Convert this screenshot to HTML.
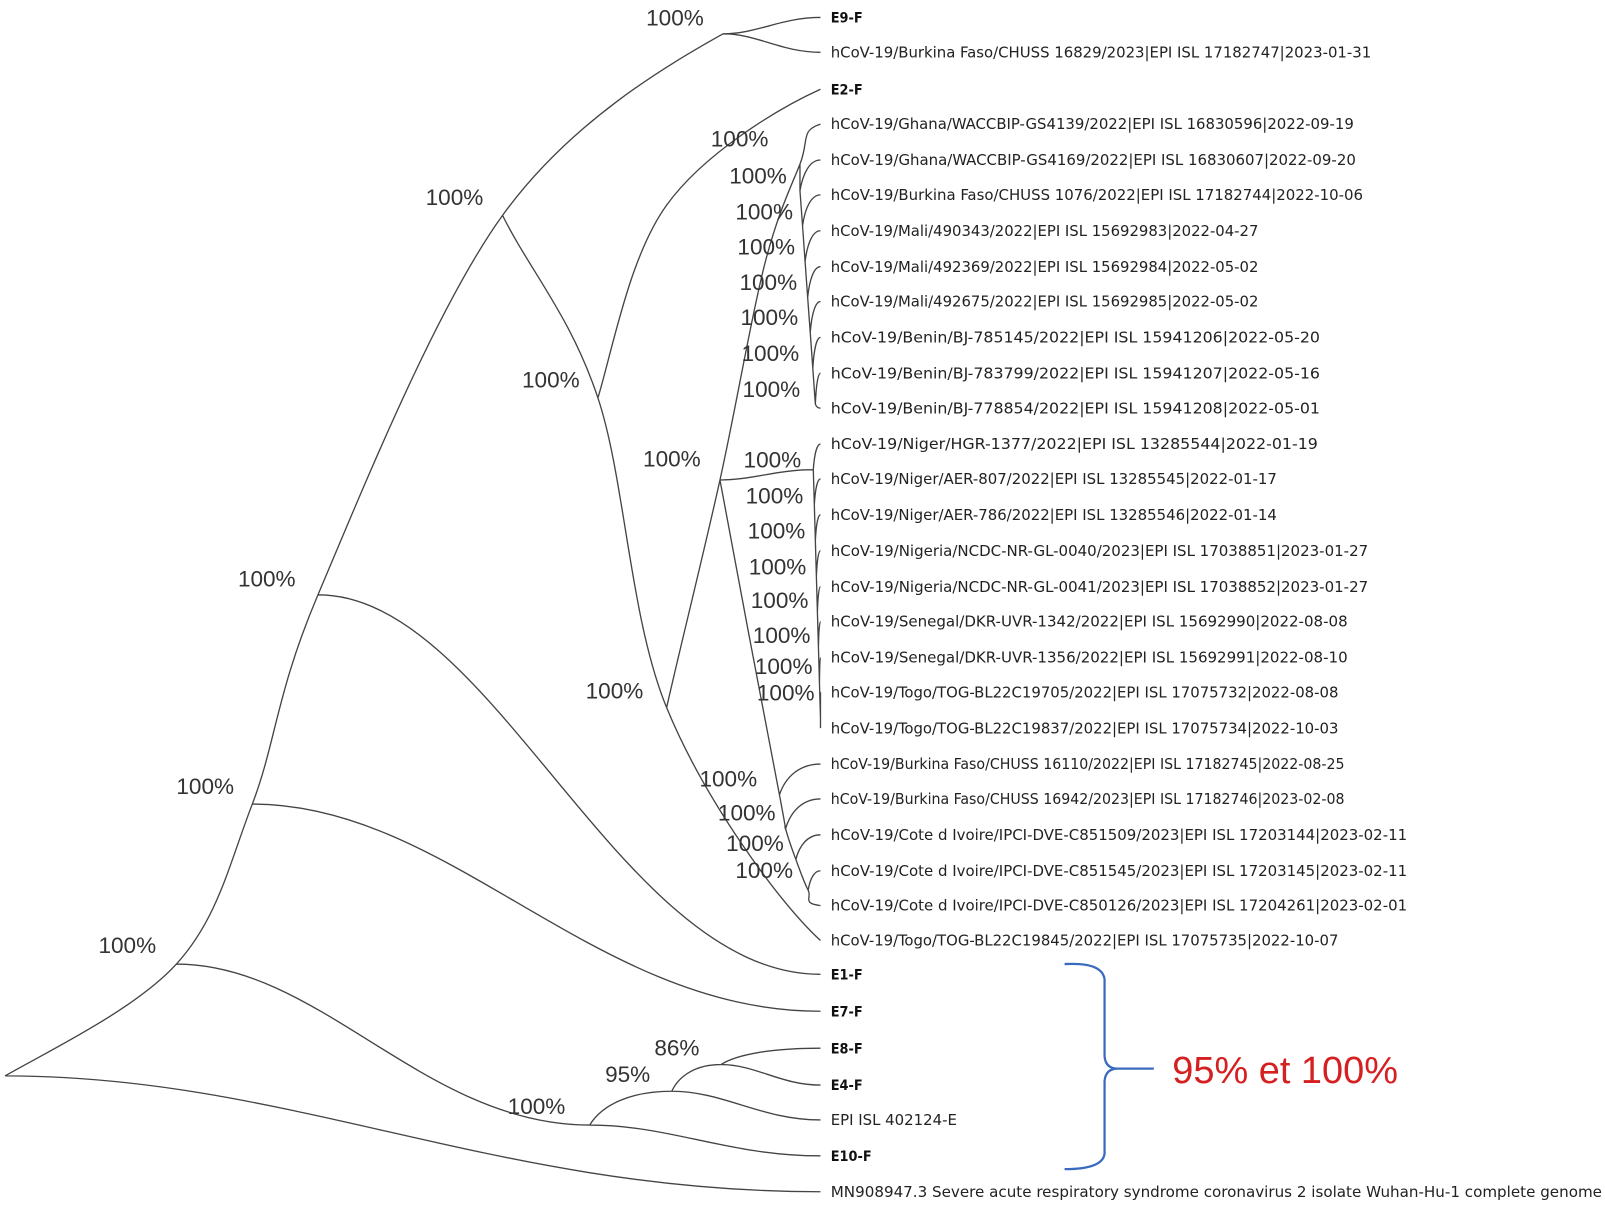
<!DOCTYPE html>
<html><head><meta charset="utf-8"><style>
html,body{margin:0;padding:0;background:#fff;}
svg{display:block;}
.b{font-family:"Liberation Sans",sans-serif;font-size:22px;fill:#333;}
.l{font-family:"DejaVu Sans Condensed","Liberation Sans Narrow","Liberation Sans",sans-serif;font-size:14.5px;fill:#222;}
.e{font-family:"DejaVu Sans Condensed","Liberation Sans",sans-serif;font-size:14px;font-weight:bold;fill:#111;}
</style></head><body>
<svg id="s" width="1605" height="1206" viewBox="0 0 1605 1206" xmlns="http://www.w3.org/2000/svg">
<g transform="scale(1.0256)">
<g id="edges" fill="none" stroke="#444" stroke-width="1.3"></g>
<text class="e" x="810" y="22">E9-F</text>
<text class="l" x="810" y="56" textLength="527" lengthAdjust="spacingAndGlyphs">hCoV-19/Burkina Faso/CHUSS 16829/2023|EPI ISL 17182747|2023-01-31</text>
<text class="e" x="810" y="92">E2-F</text>
<text class="l" x="810" y="126" textLength="510" lengthAdjust="spacingAndGlyphs">hCoV-19/Ghana/WACCBIP-GS4139/2022|EPI ISL 16830596|2022-09-19</text>
<text class="l" x="810" y="161" textLength="512" lengthAdjust="spacingAndGlyphs">hCoV-19/Ghana/WACCBIP-GS4169/2022|EPI ISL 16830607|2022-09-20</text>
<text class="l" x="810" y="195" textLength="519" lengthAdjust="spacingAndGlyphs">hCoV-19/Burkina Faso/CHUSS 1076/2022|EPI ISL 17182744|2022-10-06</text>
<text class="l" x="810" y="230" textLength="417" lengthAdjust="spacingAndGlyphs">hCoV-19/Mali/490343/2022|EPI ISL 15692983|2022-04-27</text>
<text class="l" x="810" y="265" textLength="417" lengthAdjust="spacingAndGlyphs">hCoV-19/Mali/492369/2022|EPI ISL 15692984|2022-05-02</text>
<text class="l" x="810" y="299" textLength="417" lengthAdjust="spacingAndGlyphs">hCoV-19/Mali/492675/2022|EPI ISL 15692985|2022-05-02</text>
<text class="l" x="810" y="334" textLength="477" lengthAdjust="spacingAndGlyphs">hCoV-19/Benin/BJ-785145/2022|EPI ISL 15941206|2022-05-20</text>
<text class="l" x="810" y="369" textLength="477" lengthAdjust="spacingAndGlyphs">hCoV-19/Benin/BJ-783799/2022|EPI ISL 15941207|2022-05-16</text>
<text class="l" x="810" y="403" textLength="477" lengthAdjust="spacingAndGlyphs">hCoV-19/Benin/BJ-778854/2022|EPI ISL 15941208|2022-05-01</text>
<text class="l" x="810" y="438" textLength="475" lengthAdjust="spacingAndGlyphs">hCoV-19/Niger/HGR-1377/2022|EPI ISL 13285544|2022-01-19</text>
<text class="l" x="810" y="472" textLength="435" lengthAdjust="spacingAndGlyphs">hCoV-19/Niger/AER-807/2022|EPI ISL 13285545|2022-01-17</text>
<text class="l" x="810" y="507" textLength="435" lengthAdjust="spacingAndGlyphs">hCoV-19/Niger/AER-786/2022|EPI ISL 13285546|2022-01-14</text>
<text class="l" x="810" y="542" textLength="524" lengthAdjust="spacingAndGlyphs">hCoV-19/Nigeria/NCDC-NR-GL-0040/2023|EPI ISL 17038851|2023-01-27</text>
<text class="l" x="810" y="577" textLength="524" lengthAdjust="spacingAndGlyphs">hCoV-19/Nigeria/NCDC-NR-GL-0041/2023|EPI ISL 17038852|2023-01-27</text>
<text class="l" x="810" y="611" textLength="504" lengthAdjust="spacingAndGlyphs">hCoV-19/Senegal/DKR-UVR-1342/2022|EPI ISL 15692990|2022-08-08</text>
<text class="l" x="810" y="646" textLength="504" lengthAdjust="spacingAndGlyphs">hCoV-19/Senegal/DKR-UVR-1356/2022|EPI ISL 15692991|2022-08-10</text>
<text class="l" x="810" y="680" textLength="495" lengthAdjust="spacingAndGlyphs">hCoV-19/Togo/TOG-BL22C19705/2022|EPI ISL 17075732|2022-08-08</text>
<text class="l" x="810" y="715" textLength="495" lengthAdjust="spacingAndGlyphs">hCoV-19/Togo/TOG-BL22C19837/2022|EPI ISL 17075734|2022-10-03</text>
<text class="l" x="810" y="750" textLength="501" lengthAdjust="spacingAndGlyphs">hCoV-19/Burkina Faso/CHUSS 16110/2022|EPI ISL 17182745|2022-08-25</text>
<text class="l" x="810" y="784" textLength="501" lengthAdjust="spacingAndGlyphs">hCoV-19/Burkina Faso/CHUSS 16942/2023|EPI ISL 17182746|2023-02-08</text>
<text class="l" x="810" y="819" textLength="562" lengthAdjust="spacingAndGlyphs">hCoV-19/Cote d Ivoire/IPCI-DVE-C851509/2023|EPI ISL 17203144|2023-02-11</text>
<text class="l" x="810" y="854" textLength="562" lengthAdjust="spacingAndGlyphs">hCoV-19/Cote d Ivoire/IPCI-DVE-C851545/2023|EPI ISL 17203145|2023-02-11</text>
<text class="l" x="810" y="888" textLength="562" lengthAdjust="spacingAndGlyphs">hCoV-19/Cote d Ivoire/IPCI-DVE-C850126/2023|EPI ISL 17204261|2023-02-01</text>
<text class="l" x="810" y="922" textLength="495" lengthAdjust="spacingAndGlyphs">hCoV-19/Togo/TOG-BL22C19845/2022|EPI ISL 17075735|2022-10-07</text>
<text class="e" x="810" y="955">E1-F</text>
<text class="e" x="810" y="991">E7-F</text>
<text class="e" x="810" y="1027">E8-F</text>
<text class="e" x="810" y="1063">E4-F</text>
<text class="l" x="810" y="1097" textLength="123" lengthAdjust="spacingAndGlyphs">EPI ISL 402124-E</text>
<text class="e" x="810" y="1132">E10-F</text>
<text class="l" x="810" y="1167" textLength="752" lengthAdjust="spacingAndGlyphs">MN908947.3 Severe acute respiratory syndrome coronavirus 2 isolate Wuhan-Hu-1 complete genome</text>
<g class="b">
<text x="630" y="25">100%</text>
<text x="415" y="200">100%</text>
<text x="509" y="378">100%</text>
<text x="627" y="455">100%</text>
<text x="571" y="681">100%</text>
<text x="232" y="572">100%</text>
<text x="172" y="774">100%</text>
<text x="96" y="929">100%</text>
<text x="495" y="1086">100%</text>
<text x="590" y="1055">95%</text>
<text x="638" y="1029">86%</text>
<text x="693" y="143">100%</text>
<text x="711" y="179">100%</text>
<text x="717" y="214">100%</text>
<text x="719" y="248">100%</text>
<text x="721" y="283">100%</text>
<text x="722" y="317">100%</text>
<text x="723" y="352">100%</text>
<text x="724" y="387">100%</text>
<text x="725" y="456">100%</text>
<text x="727" y="491">100%</text>
<text x="729" y="525">100%</text>
<text x="730" y="560">100%</text>
<text x="732" y="593">100%</text>
<text x="734" y="627">100%</text>
<text x="736" y="657">100%</text>
<text x="738" y="683">100%</text>
<text x="682" y="767">100%</text>
<text x="700" y="800">100%</text>
<text x="708" y="830">100%</text>
<text x="717" y="856">100%</text>
</g>
<path d="M1038,940 Q1075,938 1077,955 L1077,1030 Q1078,1042 1090,1042 L1125,1042 M1090,1042 Q1078,1042 1077,1054 L1077,1125 Q1075,1140 1038,1140" fill="none" stroke="#3a6bbf" stroke-width="2.2"/>
<text x="1143" y="1056" font-family="Liberation Sans,sans-serif" font-size="37" fill="#d42020">95% et 100%</text>
</g>
</svg>
<script>
(function(){
var g=document.getElementById('edges'),d='';
function up(p,c){var dx=c[0]-p[0],dy=c[1]-p[1];d+='M'+p[0]+','+p[1]+' C'+(p[0]+dx*0.15)+','+(p[1]+dy*0.6)+' '+(p[0]+dx*0.5)+','+c[1]+' '+c[0]+','+c[1]+' ';}
function s(p,c){var dx=c[0]-p[0];d+='M'+p[0]+','+p[1]+' C'+(p[0]+dx*0.35)+','+p[1]+' '+(p[0]+dx*0.6)+','+c[1]+' '+c[0]+','+c[1]+' ';}
// Catmull-Rom; first and last points are phantoms (tangent only)
function spl(P){
  d+='M'+P[1][0]+','+P[1][1]+' ';
  for(var i=1;i<P.length-2;i++){
    var p0=P[i-1],p1=P[i],p2=P[i+1],p3=P[i+2];
    var c1=[p1[0]+(p2[0]-p0[0])/6,p1[1]+(p2[1]-p0[1])/6];
    var c2=[p2[0]-(p3[0]-p1[0])/6,p2[1]-(p3[1]-p1[1])/6];
    d+='C'+c1[0]+','+c1[1]+' '+c2[0]+','+c2[1]+' '+p2[0]+','+p2[1]+' ';
  }
}
var R=[5,1049],N1=[172,940],N2=[246,784],N3=[310,580],N4=[490,210],N5=[705,33],N6=[583,388],N7=[650,690],N8=[702,468],N9=[780,160],Nb=[575,1097],N95=[655,1064],N86=[703,1038];
var X=800;
spl([[-80,1085],R,N1,N2,N3,N4,N5,[820,25]]);
s(R,[X,1162]);
s(N1,Nb);
s(N2,[X,986]);
s(N3,[X,950]);
s(N5,[X,17]);
s(N5,[X,51]);
spl([[420,60],N4,N6,N7,[X,917],[X+100,917]]);
spl([[560,500],N6,[650,200],[X,87],[X+100,87]]);
spl([[640,750],N7,N8,[745,260],N9,[X,121],[X+100,121]]);
var B=[[760,775],[766,808],[776,838],[788,868]],yb=[745,779,814,849];
spl([[690,380],N8,B[0],B[1],B[2],B[3],[X,883],[X+100,883]]);
for(var k=0;k<4;k++){up(B[k],[X,yb[k]]);}
var y1=[156,190,225,260,294,329,364,398],prev=N9;
for(k=0;k<7;k++){var n=[780+k*2.5,y1[k]+30];d+='M'+prev[0]+','+prev[1]+' L'+n[0]+','+n[1]+' ';up(n,[X,y1[k]]);prev=n;}
up(prev,[X,398]);
var y2=[433,467,502,537,572,606,641,675,710];prev=N8;
for(k=0;k<8;k++){var m=[793+k,y2[k]+25];if(k==0)s(prev,m);else d+='M'+prev[0]+','+prev[1]+' L'+m[0]+','+m[1]+' ';up(m,[X,y2[k]]);prev=m;}
up(prev,[X,710]);
s(Nb,[X,1127]);up(Nb,N95);
up(N95,N86);s(N95,[X,1092]);
up(N86,[X,1022]);s(N86,[X,1058]);
var p=document.createElementNS('http://www.w3.org/2000/svg','path');p.setAttribute('d',d);g.appendChild(p);
})();
</script>
</body></html>
